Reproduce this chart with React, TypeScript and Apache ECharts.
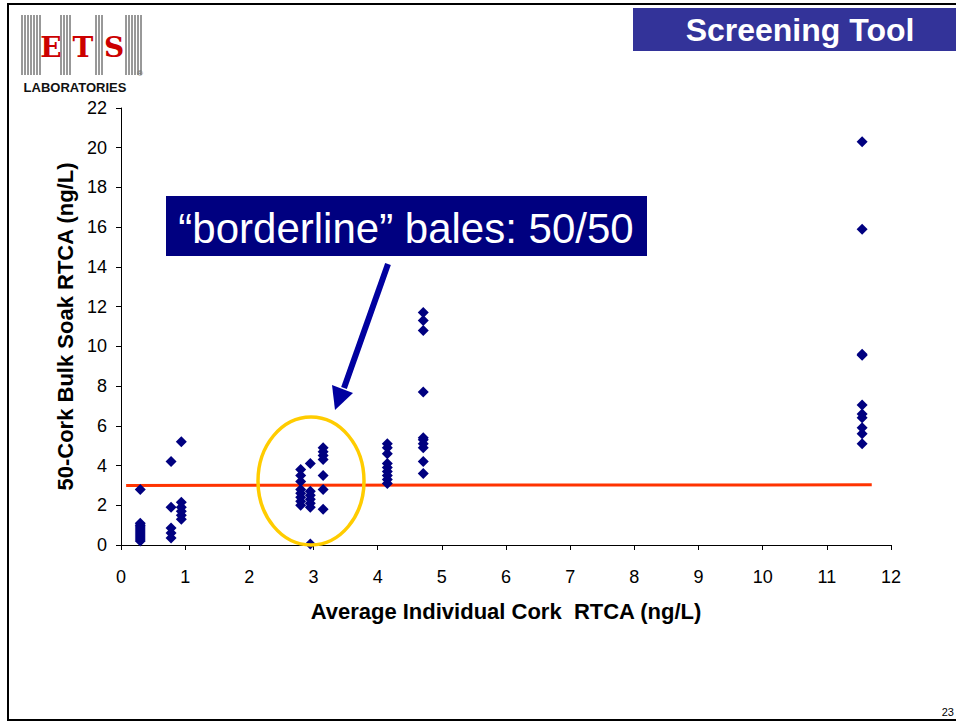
import React, { useEffect, useRef } from "react";
import * as echarts from "echarts";

const columnX = [0.3, 0.78, 0.94, 2.8, 2.95, 3.15, 4.15, 4.71, 11.55];
const columnY: number[][] = [
  [2.8, 1.1, 1.0, 0.9, 0.8, 0.7, 0.6, 0.5, 0.4, 0.3, 0.2],
  [4.2, 1.9, 0.85, 0.6, 0.35],
  [5.2, 2.15, 1.9, 1.7, 1.5, 1.3],
  [3.8, 3.5, 3.2, 2.8, 2.6, 2.4, 2.2, 2.0],
  [4.1, 2.7, 2.5, 2.3, 2.1, 1.9, 0.05],
  [4.9, 4.7, 4.5, 4.3, 3.5, 2.8, 1.8],
  [5.1, 4.9, 4.6, 4.1, 3.9, 3.7, 3.5, 3.3, 3.1],
  [11.7, 11.3, 10.8, 7.7, 5.4, 5.3, 5.1, 4.9, 4.2, 3.6],
  [20.3, 15.9, 9.6, 9.55, 7.05, 6.6, 6.4, 5.9, 5.6, 5.1],
];
const thresholdX = [0.08, 11.7];
const thresholdY = [3.0, 3.03];
const yTicks = [0, 2, 4, 6, 8, 10, 12, 14, 16, 18, 20, 22];
const xTicks = [0, 1, 2, 3, 4, 5, 6, 7, 8, 9, 10, 11, 12];

export default function App() {
  const ref = useRef<HTMLDivElement>(null);
  useEffect(() => {
    document.body.style.margin = "0";
    const chart = echarts.init(ref.current!, null, { renderer: "svg" });
    const scatterData: number[][] = [];
    columnX.forEach((x, i) => columnY[i].forEach((y) => scatterData.push([x, y])));

    const barLines: any[] = [];
    const barXs = [22, 25, 28, 31, 34, 37, 40, 61, 64, 67, 70, 96, 99, 102, 126, 129, 132, 135, 138, 141];
    barXs.forEach((x) =>
      barLines.push({ type: "line", shape: { x1: x, y1: 15, x2: x, y2: 75 }, style: { stroke: "#333", lineWidth: 1 } })
    );
    const font = "Arial, 'Liberation Sans', sans-serif";

    chart.setOption({
      animation: false,
      backgroundColor: "#ffffff",
      grid: { left: 121, right: 65, top: 108, bottom: 178, containLabel: false },
      xAxis: {
        type: "value",
        min: 0,
        max: 12,
        interval: 1,
        name: "Average Individual Cork  RTCA (ng/L)",
        nameLocation: "middle",
        nameGap: 55,
        nameTextStyle: { fontFamily: font, fontWeight: "bold", fontSize: 22, color: "#000" },
        axisLine: { lineStyle: { color: "#000", width: 1 } },
        axisTick: { show: true, length: 5, lineStyle: { color: "#000" } },
        axisLabel: { fontFamily: font, fontSize: 18, color: "#000", margin: 23, formatter: (v: number) => (xTicks.includes(v) ? String(v) : "") },
        splitLine: { show: false },
      },
      yAxis: {
        type: "value",
        min: 0,
        max: 22,
        interval: 2,
        name: "50-Cork Bulk Soak RTCA (ng/L)",
        nameLocation: "middle",
        nameGap: 45,
        nameTextStyle: { fontFamily: font, fontWeight: "bold", fontSize: 22, color: "#000" },
        axisLine: { show: true, lineStyle: { color: "#000", width: 1 } },
        axisTick: { show: true, length: 5, lineStyle: { color: "#000" } },
        axisLabel: { fontFamily: font, fontSize: 18, color: "#000", margin: 14, formatter: (v: number) => (yTicks.includes(v) ? String(v) : "") },
        splitLine: { show: false },
      },
      series: [
        {
          type: "line",
          data: thresholdX.map((x, i) => [x, thresholdY[i]]),
          symbol: "none",
          lineStyle: { color: "#FF3300", width: 3 },
          z: 1,
        },
        {
          type: "scatter",
          data: scatterData,
          symbol: "diamond",
          symbolSize: 11,
          itemStyle: { color: "#000080", opacity: 1 },
          z: 3,
        },
      ],
      graphic: [
        { type: "polyline", shape: { points: [[956, 4], [8, 4], [8, 720], [956, 720]] }, style: { stroke: "#000", fill: null, lineWidth: 2 }, z: 10 },
        { type: "rect", shape: { x: 633, y: 8, width: 323, height: 43 }, style: { fill: "#333399" }, z: 10 },
        { type: "text", x: 800, y: 30, style: { text: "Screening Tool", fill: "#fff", font: `bold 32px ${font}`, align: "center", verticalAlign: "middle" }, z: 11 },
        ...barLines,
        { type: "rect", shape: { x: 43, y: 34, width: 16, height: 24 }, style: { fill: "#fff" }, z: 5 },
        { type: "rect", shape: { x: 72, y: 34, width: 22, height: 24 }, style: { fill: "#fff" }, z: 5 },
        { type: "rect", shape: { x: 104, y: 34, width: 21, height: 24 }, style: { fill: "#fff" }, z: 5 },
        { type: "text", x: 51, y: 47, style: { text: "E", fill: "#cc0000", font: "bold 28px 'DejaVu Serif', serif", align: "center", verticalAlign: "middle" }, z: 6 },
        { type: "text", x: 83, y: 47, style: { text: "T", fill: "#cc0000", font: "bold 28px 'DejaVu Serif', serif", align: "center", verticalAlign: "middle" }, z: 6 },
        { type: "text", x: 114, y: 47, style: { text: "S", fill: "#cc0000", font: "bold 28px 'DejaVu Serif', serif", align: "center", verticalAlign: "middle" }, z: 6 },
        { type: "text", x: 140, y: 73, style: { text: "®", fill: "#666", font: `8px ${font}`, align: "center", verticalAlign: "middle" }, z: 6 },
        { type: "text", x: 75, y: 87, style: { text: "LABORATORIES", fill: "#111", font: `bold 13px ${font}`, align: "center", verticalAlign: "middle" }, z: 6 },
        { type: "ellipse", shape: { cx: 311, cy: 481, rx: 53, ry: 64 }, style: { stroke: "#FFCC00", fill: null, lineWidth: 3.5 }, z: 8 },
        { type: "rect", shape: { x: 166, y: 196, width: 481, height: 60 }, style: { fill: "#000080" }, z: 10 },
        { type: "text", x: 406, y: 228, style: { text: "\u201Cborderline\u201D bales: 50/50", fill: "#fff", font: `42px ${font}`, align: "center", verticalAlign: "middle" }, z: 11 },
        { type: "line", shape: { x1: 388, y1: 264, x2: 344, y2: 388 }, style: { stroke: "#0000A0", lineWidth: 6 }, z: 10 },
        { type: "polygon", shape: { points: [[335, 410], [353, 393], [332, 385]] }, style: { fill: "#0000A0" }, z: 10 },
        { type: "text", x: 954, y: 712, style: { text: "23", fill: "#000", font: `11px ${font}`, align: "right", verticalAlign: "middle" }, z: 11 },
      ],
    });
    return () => chart.dispose();
  }, []);
  return <div ref={ref} style={{ width: 956, height: 723 }} />;
}
